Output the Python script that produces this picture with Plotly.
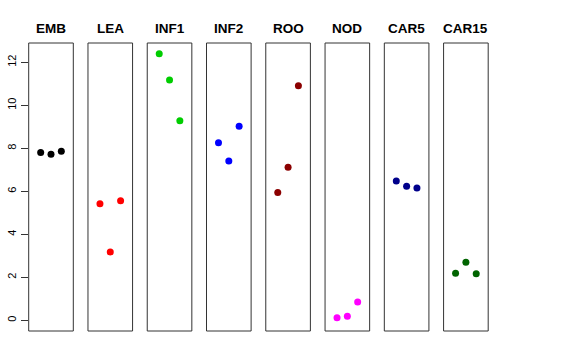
import plotly.graph_objects as go

categories = ["EMB", "LEA", "INF1", "INF2", "ROO", "NOD", "CAR5", "CAR15"]
colors = ["#000000", "#FF0000", "#00CD00", "#0000FF", "#8B0000", "#FF00FF", "#00008B", "#006400"]
emb = [7.80, 7.72, 7.86]
lea = [5.42, 3.18, 5.56]
inf1 = [12.40, 11.18, 9.28]
inf2 = [8.26, 7.41, 9.02]
roo = [5.94, 7.12, 10.91]
nod = [0.12, 0.19, 0.85]
car5 = [6.48, 6.23, 6.15]
car15 = [2.19, 2.70, 2.17]
replicates = [1, 2, 3]
y_ticks = [0, 2, 4, 6, 8, 10, 12]

series = [emb, lea, inf1, inf2, roo, nod, car5, car15]

W, H = 576, 360
left0 = 28.7
pw = 44.6
step = 59.27
ytop, ybot = 43, 331

ymax = max(max(s) for s in series)
ext = 0.04 * ymax
yr = [0 - ext, ymax + ext]
xr = [-0.16, 4.16]

fig = go.Figure()
layout = dict(
    width=W, height=H,
    margin=dict(l=0, r=0, t=0, b=0, autoexpand=False),
    paper_bgcolor="white", plot_bgcolor="white",
    showlegend=False,
    font=dict(family="Liberation Sans, Arial, sans-serif", color="black"),
)
annotations = []
shapes = []
for i, (cat, col, vals) in enumerate(zip(categories, colors, series)):
    ax = "" if i == 0 else str(i + 1)
    fig.add_trace(go.Scatter(
        x=replicates, y=vals, mode="markers",
        marker=dict(color=col, size=7),
        xaxis="x" + ax, yaxis="y",
        hoverinfo="x+y",
    ))
    x0 = left0 + i * step
    x1 = x0 + pw
    layout["xaxis" + ax] = dict(
        domain=[x0 / W, x1 / W], range=xr,
        showticklabels=False, ticks="", showgrid=False, zeroline=False,
        showline=False, anchor="y", fixedrange=True, automargin=False,
    )
    shapes.append(dict(
        type="rect", xref="x" + ax + " domain", yref="y domain",
        x0=0, x1=1, y0=0, y1=1,
        line=dict(color="#333333", width=1), fillcolor="rgba(0,0,0,0)",
        layer="above",
    ))
    annotations.append(dict(
        x=(x0 + x1) / 2 / W, y=1 - 28.5 / H, xref="paper", yref="paper",
        text="<b>" + cat + "</b>", showarrow=False,
        font=dict(size=13.5, color="black"),
        xanchor="center", yanchor="middle",
    ))

layout["yaxis"] = dict(
    domain=[1 - ybot / H, 1 - ytop / H], range=yr,
    tickvals=y_ticks, ticktext=[str(v) for v in y_ticks],
    ticks="outside", ticklen=7, tickcolor="#333333", tickwidth=1,
    tickangle=-90, tickfont=dict(size=11, color="black"),
    showgrid=False, zeroline=False,
    showline=False, anchor="x", fixedrange=True, automargin=False,
)
layout["annotations"] = annotations
layout["shapes"] = shapes
fig.update_layout(**layout)
fig.write_html(
    "out.html",
    config={"displayModeBar": False},
    post_script="document.body.style.margin='0px';document.body.style.overflow='hidden';",
)
